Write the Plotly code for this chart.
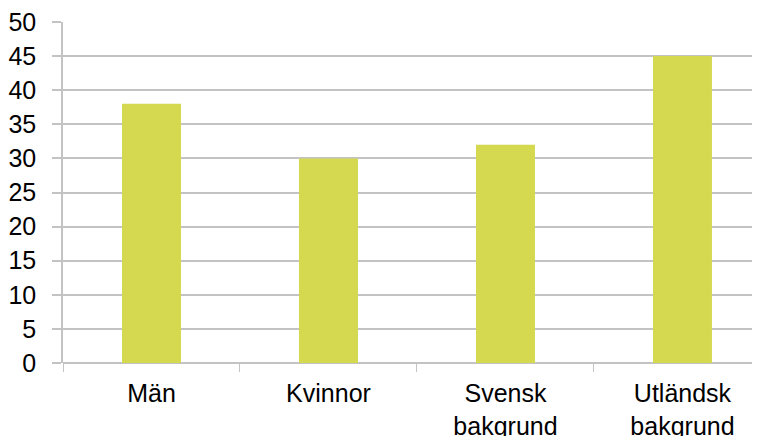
import plotly.graph_objects as go

categories = ["Män", "Kvinnor", "Svensk<br>bakgrund", "Utländsk<br>bakgrund"]
values = [38, 30, 32, 45]
y_ticks = [0, 5, 10, 15, 20, 25, 30, 35, 40, 45, 50]

grid = "#c3c3c3"

fig = go.Figure(go.Bar(x=categories, y=values, marker=dict(color="#d4d94f", line=dict(width=0))))

# the page body adds an 8px margin, so the figure is sized to the visible area
fig.update_layout(
    width=752, height=428,
    margin=dict(l=55, r=0, t=14, b=73),
    paper_bgcolor="white", plot_bgcolor="white",
    bargap=0.667,
    showlegend=False,
    font=dict(family="Liberation Sans, Arial", size=25, color="black"),
)
fig.update_xaxes(
    range=[-0.5, 3.438], automargin=False,
    showline=False,
    ticks="outside", tickson="boundaries", ticklen=8, tickcolor=grid, tickwidth=1,
    ticklabelstandoff=13, ticklabeloverflow="allow",
    showgrid=False,
)
fig.update_yaxes(
    range=[0, 50], tickvals=y_ticks, automargin=False,
    showline=True, linecolor=grid, linewidth=1.5,
    showgrid=True, gridcolor=grid, gridwidth=1.5,
    zeroline=True, zerolinecolor=grid, zerolinewidth=1.5,
    ticks="outside", ticklen=9, tickcolor=grid, tickwidth=1.5,
    ticklabelstandoff=11, ticklabeloverflow="allow",
)

fig.write_html("out.html")
